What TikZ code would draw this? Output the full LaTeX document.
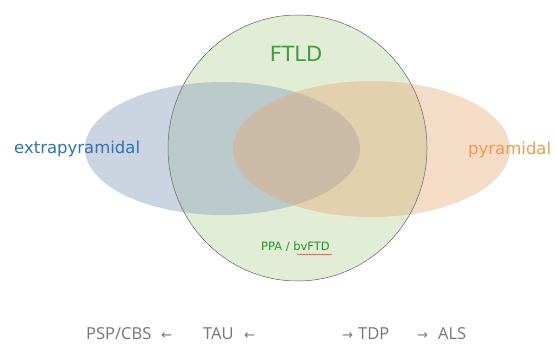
\documentclass[tikz,border=0pt]{standalone}
\usepackage{fontspec}
\setmainfont{DejaVu Sans}
\newfontfamily\osans{Open Sans}
\usetikzlibrary{decorations.pathmorphing}
\definecolor{ftldgreen}{RGB}{62,158,68}
\definecolor{ppagreen}{RGB}{34,150,40}
\definecolor{extblue}{RGB}{44,116,182}
\definecolor{pyrorange}{RGB}{238,158,72}
\definecolor{circfill}{RGB}{196,218,168}
\definecolor{leftfill}{RGB}{140,160,190}
\definecolor{rightfill}{RGB}{230,168,116}
\definecolor{bottomgray}{RGB}{118,118,118}
\definecolor{circedge}{RGB}{100,100,100}
\tikzset{
  bigtext/.style={anchor=base west, inner sep=0pt, font=\fontsize{16.5}{18}\selectfont},
  bottomtxt/.style={anchor=base west, inner sep=0pt, text=bottomgray, font=\osans\fontsize{16.5}{18}\selectfont},
  bottomarrow/.style={anchor=base west, inner sep=0pt, text=bottomgray, font=\fontsize{13}{15}\selectfont},
}
\begin{document}
\begin{tikzpicture}[x=1pt,y=-1pt]
\useasboundingbox (0,0) rectangle (556,344);
\fill[white] (0,0) rectangle (556,344);
% FTLD circle
\fill[circfill, fill opacity=0.48] (297.5,148) ellipse [x radius=129.5pt, y radius=133pt];
% left ellipse
\fill[leftfill, fill opacity=0.45] (222.5,148.5) ellipse [x radius=137.5pt, y radius=66.5pt];
% right ellipse
\fill[rightfill, fill opacity=0.4] (371.5,149) ellipse [x radius=138.5pt, y radius=68pt];
% circle border
\draw[circedge, line width=0.5pt] (297.5,148) ellipse [x radius=129.5pt, y radius=133pt];
% labels
\node[anchor=base, inner sep=0pt, text=ftldgreen, font=\fontsize{21}{24}\selectfont] (ftld) at (296,62) {FTLD};
\node[bigtext, text=extblue] (extra) at (14,154) {extrapyramidal};
\node[bigtext, text=pyrorange] (pyr) at (468,155) {pyramidal};
\node[anchor=base, inner sep=0pt, text=ppagreen, font=\fontsize{11.5}{13}\selectfont] (ppa) at (295.5,251) {PPA / bvFTD};
\coordinate (squigA) at (297,254.5);
\coordinate (squigB) at (332,254.5);
\draw[red!80!white, line width=0.5pt, decorate, decoration={snake, amplitude=0.5pt, segment length=3pt}] (squigA) -- (squigB);
% bottom line
\node[bottomtxt] (psp) at (86,339) {PSP/CBS};
\node[bottomarrow] (a1) at (161,339) {←};
\node[bottomtxt] (tau) at (203,339) {TAU};
\node[bottomarrow] (a2) at (244,339) {←};
\node[bottomarrow] (a3) at (342,339) {→};
\node[bottomtxt] (tdp) at (358,339) {TDP};
\node[bottomarrow] (a4) at (417,339) {→};
\node[bottomtxt] (als) at (438,339) {ALS};
\end{tikzpicture}
\end{document}
